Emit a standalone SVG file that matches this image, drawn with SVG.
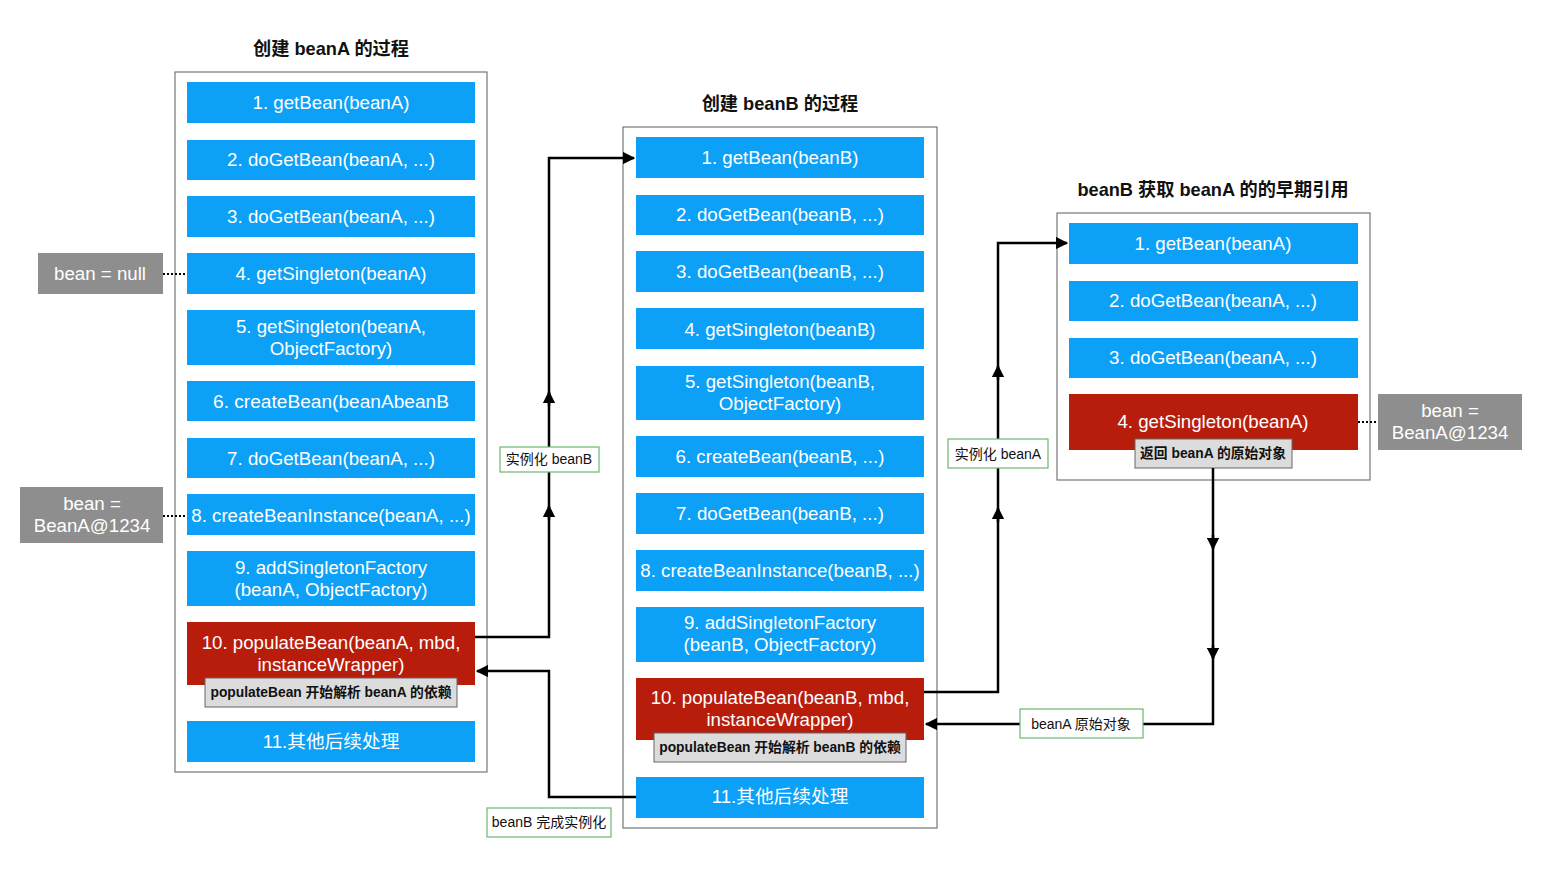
<svg xmlns="http://www.w3.org/2000/svg" width="1545" height="873" viewBox="0 0 1545 873">
<defs>
<style>
text{font-family:"Liberation Sans","Noto Sans CJK SC",sans-serif;}
.title{font-size:18.2px;font-weight:bold;fill:#111;text-anchor:middle;}
.frame{fill:#fff;stroke:#777;stroke-width:1.2;}
.blue{fill:#0ca0f7;}
.red{fill:#b81d0c;}
.bt{font-size:18.7px;fill:#fff;text-anchor:middle;}
.side{fill:#8e8e8e;}
.st{font-size:18.7px;fill:#fff;text-anchor:middle;}
.tag{fill:#dcdcdc;stroke:#666;stroke-width:1;}
.tt{font-size:13.8px;font-weight:bold;fill:#111;text-anchor:middle;}
.lbl{fill:#fff;stroke:#6cb86c;stroke-width:1.2;}
.lt{font-size:14px;fill:#111;text-anchor:middle;}
.line{fill:none;stroke:#000;stroke-width:2.5;}
.dot{fill:none;stroke:#000;stroke-width:2;stroke-dasharray:2 2;}
</style>
<marker id="ah" viewBox="0 0 10 10" refX="9" refY="5" markerWidth="5" markerHeight="5" orient="auto" markerUnits="strokeWidth"><path d="M0,0 L10,5 L0,10 z" fill="#000"/></marker>
</defs>
<rect width="1545" height="873" fill="#fff"/>

<g id="colA">
<text class="title" x="331" y="55">创建 beanA 的过程</text>
<rect class="frame" x="175" y="72" width="312" height="700"/>
<g id="a1"><rect class="blue" x="187" y="82" width="288" height="41"/><text class="bt" x="331" y="109">1. getBean(beanA)</text></g>
<g id="a2"><rect class="blue" x="187" y="140" width="288" height="40"/><text class="bt" x="331" y="166">2. doGetBean(beanA, ...)</text></g>
<g id="a3"><rect class="blue" x="187" y="196" width="288" height="41"/><text class="bt" x="331" y="223">3. doGetBean(beanA, ...)</text></g>
<g id="a4"><rect class="blue" x="187" y="253" width="288" height="41"/><text class="bt" x="331" y="280">4. getSingleton(beanA)</text></g>
<g id="a5"><rect class="blue" x="187" y="310" width="288" height="55"/><text class="bt" x="331" y="333">5. getSingleton(beanA,</text><text class="bt" x="331" y="355">ObjectFactory)</text></g>
<g id="a6"><rect class="blue" x="187" y="381" width="288" height="40"/><text class="bt" x="331" y="408" textLength="236" lengthAdjust="spacingAndGlyphs">6. createBean(beanAbeanB</text></g>
<g id="a7"><rect class="blue" x="187" y="438" width="288" height="40"/><text class="bt" x="331" y="465">7. doGetBean(beanA, ...)</text></g>
<g id="a8"><rect class="blue" x="187" y="494" width="288" height="41"/><text class="bt" x="331" y="522">8. createBeanInstance(beanA, ...)</text></g>
<g id="a9"><rect class="blue" x="187" y="551" width="288" height="55"/><text class="bt" x="331" y="574">9. addSingletonFactory</text><text class="bt" x="331" y="596">(beanA, ObjectFactory)</text></g>
<g id="a10"><rect class="red" x="187" y="622" width="288" height="63"/><text class="bt" x="331" y="649">10. populateBean(beanA, mbd,</text><text class="bt" x="331" y="671">instanceWrapper)</text>
<rect class="tag" x="205" y="678" width="252" height="29"/><text class="tt" x="331" y="697">populateBean 开始解析 beanA 的依赖</text></g>
<g id="a11"><rect class="blue" x="187" y="721" width="288" height="41"/><text class="bt" x="331" y="748">11.其他后续处理</text></g>
</g>

<g id="colB">
<text class="title" x="780" y="110">创建 beanB 的过程</text>
<rect class="frame" x="623" y="127" width="314" height="701"/>
<g id="b1"><rect class="blue" x="636" y="137" width="288" height="41"/><text class="bt" x="780" y="164">1. getBean(beanB)</text></g>
<g id="b2"><rect class="blue" x="636" y="195" width="288" height="40"/><text class="bt" x="780" y="221">2. doGetBean(beanB, ...)</text></g>
<g id="b3"><rect class="blue" x="636" y="251" width="288" height="41"/><text class="bt" x="780" y="278">3. doGetBean(beanB, ...)</text></g>
<g id="b4"><rect class="blue" x="636" y="308" width="288" height="41"/><text class="bt" x="780" y="336">4. getSingleton(beanB)</text></g>
<g id="b5"><rect class="blue" x="636" y="366" width="288" height="54"/><text class="bt" x="780" y="388">5. getSingleton(beanB,</text><text class="bt" x="780" y="410">ObjectFactory)</text></g>
<g id="b6"><rect class="blue" x="636" y="436" width="288" height="41"/><text class="bt" x="780" y="463">6. createBean(beanB, ...)</text></g>
<g id="b7"><rect class="blue" x="636" y="493" width="288" height="41"/><text class="bt" x="780" y="520">7. doGetBean(beanB, ...)</text></g>
<g id="b8"><rect class="blue" x="636" y="550" width="288" height="41"/><text class="bt" x="780" y="577">8. createBeanInstance(beanB, ...)</text></g>
<g id="b9"><rect class="blue" x="636" y="607" width="288" height="55"/><text class="bt" x="780" y="629">9. addSingletonFactory</text><text class="bt" x="780" y="651">(beanB, ObjectFactory)</text></g>
<g id="b10"><rect class="red" x="636" y="678" width="288" height="62"/><text class="bt" x="780" y="704">10. populateBean(beanB, mbd,</text><text class="bt" x="780" y="726">instanceWrapper)</text>
<rect class="tag" x="654" y="733" width="252" height="29"/><text class="tt" x="780" y="752">populateBean 开始解析 beanB 的依赖</text></g>
<g id="b11"><rect class="blue" x="636" y="777" width="288" height="41"/><text class="bt" x="780" y="803">11.其他后续处理</text></g>
</g>

<g id="colC">
<text class="title" x="1213" y="196">beanB 获取 beanA 的的早期引用</text>
<rect class="frame" x="1057" y="213" width="313" height="267"/>
<g id="c1"><rect class="blue" x="1069" y="223" width="289" height="41"/><text class="bt" x="1213" y="250">1. getBean(beanA)</text></g>
<g id="c2"><rect class="blue" x="1069" y="281" width="289" height="40"/><text class="bt" x="1213" y="307">2. doGetBean(beanA, ...)</text></g>
<g id="c3"><rect class="blue" x="1069" y="338" width="289" height="40"/><text class="bt" x="1213" y="364">3. doGetBean(beanA, ...)</text></g>
<g id="c4"><rect class="red" x="1069" y="394" width="289" height="56"/><text class="bt" x="1213" y="428">4. getSingleton(beanA)</text>
<rect class="tag" x="1135" y="439" width="157" height="29"/><text class="tt" x="1213" y="458">返回 beanA 的原始对象</text></g>
</g>

<g id="sideNull"><rect class="side" x="38" y="253" width="125" height="41"/><text class="st" x="100" y="280">bean = null</text></g>
<g id="sideA1"><rect class="side" x="20" y="487" width="143" height="56"/><text class="st" x="92" y="510">bean =</text><text class="st" x="92" y="532">BeanA@1234</text></g>
<g id="sideA2"><rect class="side" x="1378" y="394" width="144" height="56"/><text class="st" x="1450" y="417">bean =</text><text class="st" x="1450" y="439">BeanA@1234</text></g>

<g id="connectors">
<path class="dot" d="M163,274 H187"/>
<path class="dot" d="M163,516 H187"/>
<path class="dot" d="M1358,422 H1378"/>
<path class="line" d="M475,637 H549 V158 H634" marker-end="url(#ah)"/>
<path class="line" d="M549,520 V506" marker-end="url(#ah)"/>
<path class="line" d="M549,406 V392" marker-end="url(#ah)"/>
<path class="line" d="M636,797 H549 V671 H477" marker-end="url(#ah)"/>
<path class="line" d="M924,692 H998 V243 H1067" marker-end="url(#ah)"/>
<path class="line" d="M998,522 V508" marker-end="url(#ah)"/>
<path class="line" d="M998,380 V366" marker-end="url(#ah)"/>
<path class="line" d="M1213,468 V724 H926" marker-end="url(#ah)"/>
<path class="line" d="M1213,535 V549" marker-end="url(#ah)"/>
<path class="line" d="M1213,645 V659" marker-end="url(#ah)"/>
<g id="l1"><rect class="lbl" x="500" y="447" width="99" height="25"/><text class="lt" x="549" y="464">实例化 beanB</text></g>
<g id="l2"><rect class="lbl" x="487" y="808" width="124" height="29"/><text class="lt" x="549" y="827">beanB 完成实例化</text></g>
<g id="l3"><rect class="lbl" x="948" y="439" width="100" height="29"/><text class="lt" x="998" y="459">实例化 beanA</text></g>
<g id="l4"><rect class="lbl" x="1020" y="709" width="123" height="29"/><text class="lt" x="1081" y="729">beanA 原始对象</text></g>
</g>
</svg>
